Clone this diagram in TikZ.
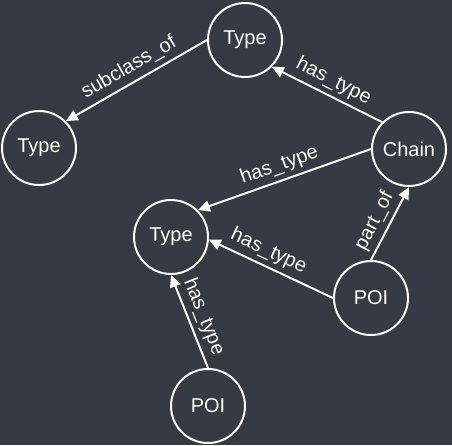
\documentclass[tikz,border=0pt]{standalone}
\usepackage{fontspec}
\setmainfont{Liberation Sans}
\usetikzlibrary{arrows.meta}
\definecolor{bgdark}{RGB}{54,58,66}

\begin{document}
\begin{tikzpicture}[
      x=1pt, y=-1pt,
      ent/.style={draw=white, circle, line width=2pt, minimum size=74pt, inner sep=0pt, text=white, font=\fontsize{20}{24}\selectfont},
      arrow/.style={-{Triangle[length=12pt, width=11pt]}, draw=white, line width=2pt},
      lbl/.style={sloped, above, inner sep=4.5pt, text=white, font=\fontsize{20}{24}\selectfont}
    ]
        \fill[bgdark] (0,0) rectangle (452,445);

        \node[ent] (typeTop) at (245,40) {Type};
        \node[ent] (typeLeft) at (39,148) {Type};
        \node[ent] (chain) at (409,149) {Chain};
        \node[ent] (typeMid) at (171,237) {Type};
        \node[ent] (poiRight) at (371,298) {POI};
        \node[ent] (poiBottom) at (208,406) {POI};

        \draw[arrow] (typeTop.west) -- node[lbl] {subclass\_of} (typeLeft.45);
        \draw[arrow] (chain.135) -- node[lbl] {has\_type} (typeTop.-45);
        \draw[arrow] (chain.west) -- node[lbl] {has\_type} (typeMid.45);
        \draw[arrow] (poiRight.west) -- node[lbl, pos=0.57] {has\_type} (typeMid.-4);
        \draw[arrow] (poiBottom.north) -- node[lbl, pos=0.49] {has\_type} (typeMid.south);
        \draw[arrow] (poiRight.north) -- node[lbl, pos=0.44] {part\_of} (chain.south);
    \end{tikzpicture}
\end{document}
